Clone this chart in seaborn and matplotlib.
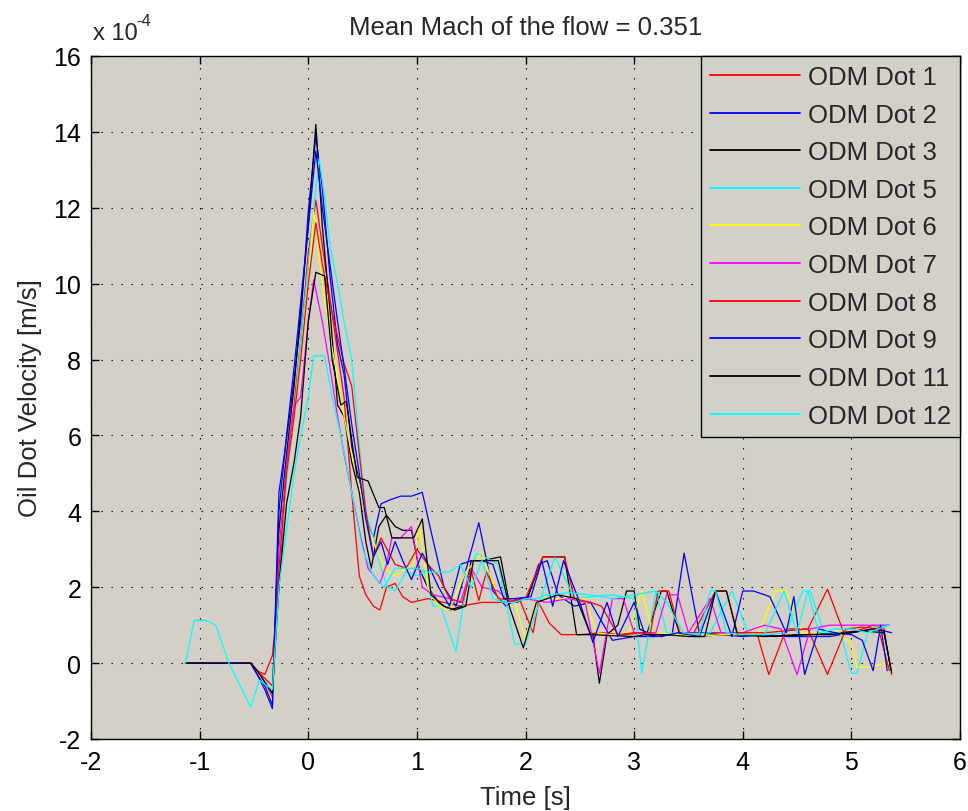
import matplotlib
matplotlib.use("Agg")
import matplotlib.pyplot as plt
import seaborn as sns
import pandas as pd

# ---------------- data (values in units of 1e-4 m/s) ----------------
t_dot1 = [-1.13, -0.53, -0.47, -0.40, -0.33, -0.27, -0.20, -0.13, -0.07, 0.0, 0.07, 0.13, 0.20, 0.27, 0.33,
          0.40, 0.47, 0.53, 0.60, 0.66, 0.72, 0.80, 0.87, 0.95, 1.10, 1.25, 1.40, 1.50, 1.60, 1.75, 1.95,
          2.07, 2.12, 2.22, 2.33, 2.50, 2.70, 2.90, 3.10, 3.30, 3.50, 3.70, 3.90, 4.13, 4.24, 4.40, 4.60,
          4.78, 4.93, 5.05, 5.20, 5.30, 5.37]
v_dot1 = [0, 0, -0.2, -0.3, 0.2, 2.0, 5.2, 6.8, 8.5, 10.8, 12.2, 11.0, 9.6, 8.2, 7.0,
          4.5, 2.3, 1.8, 1.5, 1.4, 2.0, 2.1, 1.75, 1.6, 1.7, 1.6, 1.5, 1.55, 1.6, 1.6, 1.65,
          0.8, 1.6, 1.05, 0.75, 0.75, 0.8, 0.75, 0.8, 0.75, 0.8, 0.8, 0.8, 0.8, -0.3, 0.9, 0.9,
          1.95, 0.8, 0.85, 1.0, 0.9, -0.3]

t_dot2 = [-1.13, -0.53, -0.47, -0.40, -0.33, -0.27, -0.20, -0.13, -0.07, 0.0, 0.07, 0.13, 0.20, 0.27, 0.33,
          0.40, 0.47, 0.53, 0.60, 0.67, 0.75, 0.85, 0.95, 1.05, 1.12, 1.25, 1.36, 1.57, 1.70, 1.82, 1.92,
          2.02, 2.12, 2.20, 2.30, 2.45, 2.60, 2.80, 3.00, 3.20, 3.35, 3.46, 3.60, 3.80, 4.00, 4.20, 4.40,
          4.60, 4.80, 5.00, 5.20, 5.30, 5.37]
v_dot2 = [0, 0, -0.3, -0.7, -1.2, 4.5, 5.9, 7.5, 9.0, 11.9, 13.9, 12.5, 10.2, 8.4, 7.6,
          5.7, 4.8, 3.8, 3.3, 4.2, 4.3, 4.4, 4.4, 4.5, 3.6, 2.0, 1.5, 3.7, 1.9, 1.5, 1.7,
          1.7, 2.6, 2.7, 1.8, 1.5, 1.6, 0.6, 0.7, 0.7, 0.75, 2.9, 0.8, 0.75, 0.7, 0.75, 0.7,
          0.7, 0.7, 0.8, 0.9, 0.85, 0.8]

t_dot3 = [-1.13, -0.53, -0.47, -0.40, -0.33, -0.27, -0.20, -0.13, -0.07, 0.0, 0.07, 0.13, 0.20, 0.27, 0.33,
          0.40, 0.47, 0.53, 0.58, 0.65, 0.72, 0.80, 0.87, 0.95, 1.02, 1.10, 1.20, 1.30, 1.42, 1.50, 1.60,
          1.77, 1.85, 1.92, 2.02, 2.16, 2.36, 2.47, 2.62, 2.68, 2.75, 2.85, 2.93, 3.00, 3.05, 3.12, 3.25,
          3.30, 3.42, 3.60, 3.80, 4.00, 4.30, 4.60, 4.90, 5.10, 5.30, 5.37]
v_dot3 = [0, 0, -0.2, -0.5, -0.8, 3.5, 5.5, 7.3, 9.3, 11.5, 14.2, 11.5, 9.3, 6.8, 6.5,
          5.3, 4.5, 3.2, 2.5, 3.6, 3.9, 3.6, 3.5, 3.5, 2.5, 2.0, 1.6, 1.4, 1.5, 2.7, 2.7,
          2.8, 1.6, 1.6, 1.75, 2.8, 2.8, 0.75, 0.75, -0.53, 0.75, 1.0, 1.9, 1.9, 0.9, 0.8, 1.9,
          1.9, 0.75, 0.7, 0.75, 0.75, 0.7, 0.75, 0.8, 0.85, 0.8, -0.25]

t_dot5 = [-1.13, -0.53, -0.47, -0.40, -0.33, -0.27, -0.20, -0.13, -0.07, 0.0, 0.07, 0.10, 0.15, 0.20, 0.27,
          0.33, 0.40, 0.47, 0.53, 0.60, 0.67, 0.73, 0.80, 0.90, 1.00, 1.07, 1.15, 1.22, 1.36, 1.45, 1.55,
          1.75, 1.90, 2.00, 2.27, 2.45, 2.60, 2.80, 3.00, 3.07, 3.20, 3.30, 3.50, 3.70, 3.90, 4.05, 4.20,
          4.40, 4.55, 4.62, 4.75, 4.90, 5.00, 5.05, 5.15, 5.25, 5.35]
v_dot5 = [0, 0, -0.2, -0.4, -0.6, 2.5, 4.8, 6.5, 8.5, 10.5, 12.5, 13.3, 12.3, 11.0, 10.0,
          9.0, 8.0, 5.8, 4.0, 3.3, 2.5, 2.0, 1.9, 2.4, 2.3, 2.4, 1.5, 1.5, 0.3, 2.0, 2.9,
          2.6, 0.5, 0.5, 2.8, 1.7, 1.75, 1.8, 1.7, -0.27, 1.9, 0.8, 0.75, 0.8, 1.9, 0.8, 0.75,
          0.8, 1.9, 1.9, 0.8, 0.8, -0.27, -0.27, 0.8, 1.0, 1.0]

t_dot6 = [-1.13, -0.53, -0.47, -0.40, -0.33, -0.27, -0.20, -0.13, -0.07, 0.0, 0.05, 0.13, 0.20, 0.27, 0.33,
          0.40, 0.47, 0.53, 0.60, 0.70, 0.80, 0.90, 0.97, 1.02, 1.10, 1.20, 1.30, 1.45, 1.60, 1.75, 1.90,
          2.00, 2.10, 2.20, 2.40, 2.55, 2.65, 2.80, 2.95, 3.07, 3.17, 3.40, 3.60, 3.80, 4.00, 4.15, 4.30,
          4.40, 4.55, 4.70, 4.85, 5.00, 5.05, 5.20, 5.30, 5.37]
v_dot6 = [0, 0, -0.2, -0.6, -1.0, 3.0, 5.0, 6.5, 8.0, 10.0, 11.9, 10.0, 8.6, 7.5, 6.5,
          5.5, 4.7, 3.8, 3.2, 2.5, 2.3, 2.5, 2.6, 3.7, 2.0, 1.5, 1.4, 2.4, 2.9, 1.7, 1.65,
          0.6, 1.6, 1.7, 1.7, 1.7, 0.8, 0.75, 0.8, 1.9, 0.8, 0.75, 0.7, 0.75, 0.75, 0.8, 1.9,
          1.9, 0.8, 0.8, 0.9, 0.5, -0.1, -0.1, 0.0, -0.25]

t_dot7 = [-1.13, -0.53, -0.47, -0.40, -0.33, -0.27, -0.20, -0.13, -0.07, 0.0, 0.05, 0.13, 0.20, 0.27, 0.33,
          0.40, 0.47, 0.55, 0.66, 0.72, 0.77, 0.85, 0.95, 1.05, 1.15, 1.30, 1.40, 1.50, 1.60, 1.75, 1.85,
          2.00, 2.20, 2.40, 2.55, 2.68, 2.80, 2.90, 3.00, 3.20, 3.30, 3.40, 3.50, 3.70, 3.80, 4.00, 4.20,
          4.35, 4.50, 4.62, 4.80, 5.00, 5.20, 5.35]
v_dot7 = [0, 0, -0.2, -0.5, -0.9, 3.0, 5.2, 6.8, 7.0, 9.0, 10.1, 9.0, 7.8, 6.5, 5.5,
          4.5, 3.5, 2.5, 2.1, 2.6, 3.3, 3.3, 3.6, 2.0, 1.8, 1.7, 1.6, 2.5, 2.0, 1.9, 1.6,
          1.7, 1.6, 1.7, 1.6, -0.27, 1.7, 1.7, 0.8, 0.8, 1.8, 1.8, 0.8, 1.7, 0.8, 0.8, 1.0,
          0.9, -0.3, 0.9, 1.0, 1.0, 1.0, 1.0]

t_dot8 = [-1.13, -0.53, -0.47, -0.40, -0.33, -0.27, -0.20, -0.13, -0.07, 0.0, 0.07, 0.13, 0.20, 0.27, 0.33,
          0.40, 0.47, 0.53, 0.60, 0.67, 0.80, 0.90, 1.00, 1.10, 1.20, 1.30, 1.42, 1.50, 1.57, 1.64, 1.75,
          1.90, 2.00, 2.16, 2.36, 2.45, 2.60, 2.70, 2.85, 3.00, 3.15, 3.22, 3.32, 3.42, 3.55, 3.75, 3.85,
          3.95, 4.20, 4.60, 4.78, 4.95, 5.10, 5.25, 5.35]
v_dot8 = [0, 0, -0.2, -0.4, -0.6, 2.5, 5.0, 6.5, 8.0, 10.0, 11.6, 10.5, 9.5, 8.6, 7.9,
          7.3, 5.5, 4.0, 2.8, 3.3, 2.6, 2.5, 3.0, 2.6, 2.3, 1.7, 1.6, 2.45, 1.65, 2.4, 1.7,
          1.65, 1.7, 2.8, 2.8, 1.7, 1.6, 1.5, 0.75, 0.8, 0.8, 1.9, 1.9, 0.8, 0.8, 1.9, 1.9,
          0.8, 0.8, 0.9, -0.3, 0.9, 0.95, 0.9, -0.2]

t_dot9 = [-1.13, -0.53, -0.47, -0.40, -0.33, -0.27, -0.20, -0.13, -0.07, 0.0, 0.07, 0.13, 0.20, 0.27, 0.33,
          0.40, 0.47, 0.53, 0.60, 0.67, 0.73, 0.80, 0.87, 0.95, 1.05, 1.12, 1.20, 1.30, 1.40, 1.50, 1.60,
          1.70, 1.80, 1.90, 2.05, 2.15, 2.25, 2.35, 2.50, 2.62, 2.75, 2.85, 3.00, 3.10, 3.25, 3.40, 3.60,
          3.75, 3.90, 4.00, 4.10, 4.25, 4.40, 4.47, 4.57, 4.70, 4.85, 5.00, 5.10, 5.20, 5.27, 5.33]
v_dot9 = [0, 0, -0.3, -0.6, -1.1, 4.0, 6.0, 7.8, 9.5, 11.5, 13.5, 12.0, 10.5, 9.0, 7.8,
          6.3, 5.0, 3.8, 2.8, 3.2, 2.6, 3.2, 2.7, 2.2, 2.9, 2.5, 2.0, 1.5, 2.6, 2.7, 2.7,
          2.6, 1.7, 1.7, 1.75, 2.7, 1.5, 2.7, 1.6, 0.55, 1.6, 0.7, 1.6, 0.75, 0.7, 0.8, 0.7,
          1.9, 0.7, 1.9, 1.9, 1.75, 0.8, 1.75, -0.3, 0.9, 0.8, 0.75, 0.6, -0.2, 1.0, -0.2]

t_dot11 = [-1.13, -0.53, -0.47, -0.40, -0.33, -0.27, -0.20, -0.13, -0.07, 0.0, 0.07, 0.15, 0.22, 0.30, 0.35,
           0.45, 0.55, 0.65, 0.70, 0.77, 0.97, 1.05, 1.13, 1.25, 1.35, 1.45, 1.52, 1.75, 1.85, 1.98, 2.10,
           2.20, 2.30, 2.47, 2.60, 3.00, 3.10, 3.30, 3.50, 3.65, 3.75, 3.85, 3.95, 4.20, 4.50, 4.80, 5.00,
           5.20, 5.30, 5.37]
v_dot11 = [0, 0, -0.2, -0.5, -0.8, 2.0, 4.2, 5.3, 6.5, 9.0, 10.3, 10.2, 8.0, 6.8, 6.9,
           4.9, 4.8, 4.1, 4.1, 3.3, 3.3, 3.8, 1.8, 1.5, 1.4, 1.5, 2.7, 2.7, 1.5, 0.4, 1.6,
           1.7, 1.8, 1.7, 0.75, 0.7, 0.75, 0.75, 0.7, 0.7, 1.9, 1.9, 0.75, 0.7, 0.75, 0.75, 0.8,
           0.9, 0.85, -0.25]

t_dot12 = [-1.13, -1.05, -0.95, -0.85, -0.73, -0.53, -0.45, -0.33, -0.27, -0.20, -0.13, -0.07, 0.0, 0.05, 0.15,
           0.22, 0.30, 0.40, 0.50, 0.60, 0.70, 0.80, 0.90, 1.00, 1.10, 1.20, 1.30, 1.40, 1.50, 1.60, 1.70,
           1.80, 1.90, 2.00, 2.10, 2.20, 2.40, 2.60, 2.80, 3.00, 3.20, 3.30, 3.45, 3.60, 3.70, 3.75, 3.85,
           4.00, 4.20, 4.38, 4.50, 4.60, 4.70, 4.85, 5.00, 5.15, 5.25, 5.35]
v_dot12 = [0, 1.13, 1.13, 1.0, 0, -1.16, -0.45, -0.7, 2.0, 3.5, 5.0, 6.0, 7.0, 8.1, 8.1,
           7.0, 6.0, 4.5, 3.0, 2.3, 2.0, 2.5, 2.5, 2.5, 2.4, 2.4, 2.4, 2.6, 2.0, 2.7, 1.7,
           1.6, 1.6, 1.7, 1.7, 1.8, 1.85, 1.8, 1.7, 1.8, 1.9, 1.6, 0.8, 0.75, 1.9, 1.9, 0.8,
           0.75, 0.75, 1.9, 0.8, 1.9, 0.8, 0.9, 0.9, 0.8, 0.9, 1.0]

labels = ["ODM Dot 1", "ODM Dot 2", "ODM Dot 3", "ODM Dot 5", "ODM Dot 6",
          "ODM Dot 7", "ODM Dot 8", "ODM Dot 9", "ODM Dot 11", "ODM Dot 12"]
colors = ["#ff0000", "#0000ff", "#000000", "#00ffff", "#ffff00",
          "#ff00ff", "#ff0000", "#0000ff", "#000000", "#00ffff"]
times = [t_dot1, t_dot2, t_dot3, t_dot5, t_dot6, t_dot7, t_dot8, t_dot9, t_dot11, t_dot12]
vals = [v_dot1, v_dot2, v_dot3, v_dot5, v_dot6, v_dot7, v_dot8, v_dot9, v_dot11, v_dot12]

xticks = [-2, -1, 0, 1, 2, 3, 4, 5, 6]
yticks = [-2, 0, 2, 4, 6, 8, 10, 12, 14, 16]

title = "Mean Mach of the flow = 0.351"
xlabel = "Time [s]"
ylabel = "Oil Dot Velocity [m/s]"

# ---------------- build long table ----------------
rows = []
for lab, ts, vs in zip(labels, times, vals):
    for i, (t, v) in enumerate(zip(ts, vs)):
        rows.append({"series": lab, "order": i, "Time": t, "Velocity": v * 1e-4})
df = pd.DataFrame(rows)

sns.set_theme(style="ticks")
plt.rcParams["font.family"] = ["Liberation Sans", "DejaVu Sans"]
plt.rcParams["axes.unicode_minus"] = False
bg = "#d4d0c8"

fig = plt.figure(figsize=(9.68, 8.12), dpi=100)
ax = fig.add_axes([91 / 968, 72 / 812, 869 / 968, 683 / 812])
ax.set_facecolor(bg)

sns.lineplot(data=df, x="Time", y="Velocity", hue="series", hue_order=labels,
             palette=dict(zip(labels, colors)), units="series", estimator=None,
             sort=False, linewidth=0.9, ax=ax, legend=False)

ax.set_xlim(-2, 6)
ax.set_ylim(-2e-4, 16e-4)
ax.set_xticks(xticks)
ax.set_xticklabels([str(v) for v in xticks])
ax.set_yticks([v * 1e-4 for v in yticks])
ax.set_yticklabels([str(v) for v in yticks])
ax.tick_params(direction="in", length=6, width=1, top=True, right=True,
               labelsize=18, colors="black")
ax.tick_params(axis="x", pad=8)
ax.tick_params(axis="y", pad=7)
for s in ax.spines.values():
    s.set_visible(True)
    s.set_color("black")
    s.set_linewidth(1.0)
ax.grid(True, linestyle=(0, (1.25, 7.75)), color="black", linewidth=0.8)

ax.set_xlabel(xlabel, fontsize=18.5, labelpad=8)
ax.set_ylabel(ylabel, fontsize=18.5, labelpad=8)
ax.set_title(title, fontsize=18.5, pad=16)
fig.text(93 / 968, 1 - 34 / 812, "x 10", fontsize=17, ha="left", va="center")
fig.text(136 / 968, 1 - 21 / 812, "-4", fontsize=12, ha="left", va="center")

handles = [matplotlib.lines.Line2D([], [], color=c, lw=1.3) for c in colors]
leg = ax.legend(handles, labels, loc="upper right", borderaxespad=0, fontsize=18.5,
                frameon=True, fancybox=False, facecolor=bg, edgecolor="black",
                framealpha=1, handlelength=3.5, handletextpad=0.3,
                labelspacing=0.53, borderpad=0.35)
leg.get_frame().set_linewidth(1.0)

fig.savefig("out.png", dpi=100, facecolor="white")
